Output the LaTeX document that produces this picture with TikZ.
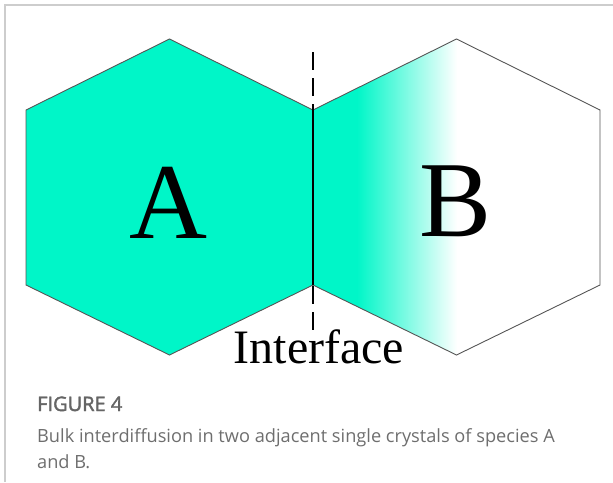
\documentclass[tikz,border=0pt]{standalone}
\usepackage{fontspec}
\usepackage{tikz}
\newfontfamily\timesfont{Liberation Serif}
\newfontfamily\capfont{Open Sans}
\newfontfamily\capboldfont[FakeBold=2]{Open Sans}
\definecolor{crystal}{RGB}{0,246,200}
\definecolor{edgegray}{RGB}{85,85,85}
\definecolor{framegray}{RGB}{205,205,205}
\definecolor{captiongray}{RGB}{110,110,110}

\begin{document}
\begin{tikzpicture}[
  x=1pt, y=-1pt,
  hexedge/.style={draw=edgegray, line width=0.9pt, line join=miter},
  letter/.style={anchor=base, inner sep=0pt, font=\timesfont\fontsize{108}{108}\selectfont},
  iface/.style={black, line width=1.8pt, dash pattern=on 18pt off 8pt},
  capline/.style={anchor=base west, inner sep=0pt, text=captiongray, font=\capfont\fontsize{18.2}{18.2}\selectfont}
]
\useasboundingbox (0,0) rectangle (613,482);
% frame of the figure panel
\draw[framegray, line width=1.4pt] (5,482) -- (5,5) -- (613,5);

% vertices of the two crystals
\coordinate (atop) at (169.5,39);
\coordinate (aul) at (26,110);
\coordinate (all) at (26,285);
\coordinate (abot) at (169.5,355);
\coordinate (mup) at (313,110);
\coordinate (mlo) at (313,285);
\coordinate (btop) at (456.5,39);
\coordinate (bur) at (600,110);
\coordinate (blr) at (600,285);
\coordinate (bbot) at (456.5,355);

% crystal A
\fill[crystal] (atop) -- (mup) -- (mlo) -- (abot) -- (all) -- (aul) -- cycle;

% crystal B with the diffused zone
\begin{scope}
  \clip (btop) -- (bur) -- (blr) -- (bbot) -- (mlo) -- (mup) -- cycle;
  \fill[crystal] (312,30) rectangle (357,360);
  \shade[left color=crystal, right color=white] (357,30) rectangle (457,360);
\end{scope}

\draw[hexedge] (atop) -- (mup) -- (mlo) -- (abot) -- (all) -- (aul) -- cycle;
\draw[hexedge] (btop) -- (bur) -- (blr) -- (bbot) -- (mlo) -- (mup) -- cycle;

% interface
\coordinate (itop) at (313,52);
\coordinate (ibot) at (313,333);
\draw[iface] (itop) -- (ibot);
\draw[black, line width=1.8pt] (mup) -- (mlo);

\node[letter] (labelA) at (168,238) {A};
\node[letter] (labelB) at (456,236) {B};
\node[anchor=base, inner sep=0pt, font=\timesfont\fontsize{48}{48}\selectfont] (labelI) at (319,363) {Interface};

% caption
\node[capline, font=\capboldfont\fontsize{20}{20}\selectfont, text=captiongray!92!black] (figno) at (37,411) {FIGURE 4};
\node[capline] (figtext) at (37,442) {Bulk interdiffusion in two adjacent single crystals of species A};
\node[capline] (figtext2) at (37,468) {and B.};
\end{tikzpicture}
\end{document}
